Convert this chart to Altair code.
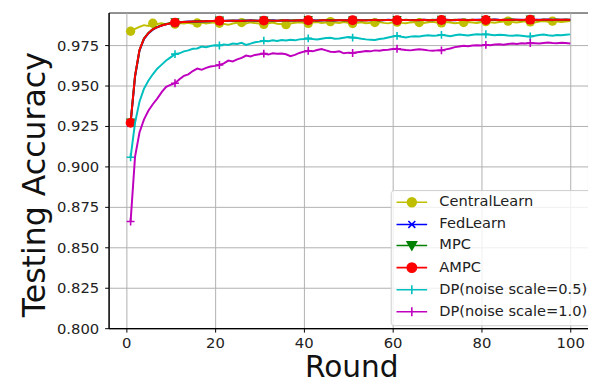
import altair as alt
import pandas as pd

rounds = list(range(1, 101))

names = ["CentralLearn", "FedLearn", "MPC", "AMPC",
         "DP(noise scale=0.5)", "DP(noise scale=1.0)"]
colors = ["#bfbf00", "#0000ff", "#008000", "#ff0000", "#00bfbf", "#bf00bf"]

central = [
    0.9836, 0.9851, 0.9863, 0.9874, 0.9869, 0.9886, 0.9881, 0.9885, 0.9879, 0.9886,
    0.9880, 0.9887, 0.9884, 0.9889, 0.9883, 0.9887, 0.9890, 0.9884, 0.9888, 0.9891,
    0.9886, 0.9882, 0.9876, 0.9884, 0.9889, 0.9890, 0.9885, 0.9891, 0.9887, 0.9884,
    0.9879, 0.9886, 0.9890, 0.9883, 0.9881, 0.9877, 0.9884, 0.9889, 0.9892, 0.9888,
    0.9885, 0.9890, 0.9893, 0.9888, 0.9891, 0.9896, 0.9890, 0.9887, 0.9893, 0.9889,
    0.9884, 0.9888, 0.9892, 0.9886, 0.9889, 0.9890, 0.9894, 0.9888, 0.9885, 0.9891,
    0.9893, 0.9888, 0.9886, 0.9891, 0.9894, 0.9890, 0.9887, 0.9892, 0.9895, 0.9891,
    0.9888, 0.9893, 0.9890, 0.9886, 0.9889, 0.9890, 0.9894, 0.9891, 0.9888, 0.9893,
    0.9896, 0.9892, 0.9889, 0.9894, 0.9897, 0.9899, 0.9893, 0.9890, 0.9895, 0.9898,
    0.9894, 0.9891, 0.9896, 0.9899, 0.9895, 0.9899, 0.9896, 0.9893, 0.9897, 0.9899,
]

fedlearn = [
    0.9268, 0.9555, 0.9716, 0.9788, 0.9823, 0.9846, 0.9861, 0.9871, 0.9879, 0.9885,
    0.9889, 0.9893, 0.9893, 0.9896, 0.9895, 0.9898, 0.9897, 0.9899, 0.9898, 0.9901,
    0.9900, 0.9901, 0.9902, 0.9901, 0.9903, 0.9901, 0.9901, 0.9904, 0.9901, 0.9902,
    0.9903, 0.9902, 0.9904, 0.9902, 0.9902, 0.9905, 0.9903, 0.9902, 0.9905, 0.9904,
    0.9903, 0.9905, 0.9903, 0.9903, 0.9906, 0.9904, 0.9903, 0.9906, 0.9905, 0.9904,
    0.9905, 0.9904, 0.9905, 0.9905, 0.9904, 0.9907, 0.9905, 0.9904, 0.9907, 0.9906,
    0.9905, 0.9906, 0.9905, 0.9906, 0.9906, 0.9905, 0.9908, 0.9906, 0.9905, 0.9907,
    0.9905, 0.9908, 0.9906, 0.9905, 0.9908, 0.9907, 0.9906, 0.9906, 0.9907, 0.9908,
    0.9907, 0.9906, 0.9909, 0.9907, 0.9906, 0.9908, 0.9907, 0.9908, 0.9907, 0.9906,
    0.9907, 0.9908, 0.9907, 0.9907, 0.9909, 0.9907, 0.9907, 0.9908, 0.9907, 0.9908,
]

mpc = [
    0.9272, 0.9558, 0.9719, 0.9791, 0.9826, 0.9849, 0.9863, 0.9873, 0.9881, 0.9887,
    0.9891, 0.9891, 0.9895, 0.9894, 0.9897, 0.9896, 0.9899, 0.9897, 0.9900, 0.9899,
    0.9902, 0.9899, 0.9902, 0.9903, 0.9900, 0.9901, 0.9903, 0.9902, 0.9903, 0.9900,
    0.9903, 0.9904, 0.9901, 0.9902, 0.9904, 0.9903, 0.9903, 0.9904, 0.9903, 0.9902,
    0.9905, 0.9902, 0.9903, 0.9905, 0.9904, 0.9904, 0.9905, 0.9904, 0.9903, 0.9904,
    0.9903, 0.9906, 0.9903, 0.9904, 0.9906, 0.9905, 0.9903, 0.9906, 0.9905, 0.9904,
    0.9905, 0.9904, 0.9907, 0.9904, 0.9905, 0.9907, 0.9906, 0.9904, 0.9907, 0.9906,
    0.9907, 0.9906, 0.9904, 0.9907, 0.9906, 0.9905, 0.9906, 0.9908, 0.9905, 0.9906,
    0.9905, 0.9908, 0.9907, 0.9905, 0.9908, 0.9907, 0.9909, 0.9906, 0.9905, 0.9908,
    0.9909, 0.9906, 0.9905, 0.9909, 0.9906, 0.9905, 0.9909, 0.9906, 0.9909, 0.9906,
]

ampc = [
    0.9270, 0.9560, 0.9720, 0.9790, 0.9825, 0.9848, 0.9862, 0.9872, 0.9880, 0.9886,
    0.9890, 0.9892, 0.9894, 0.9895, 0.9896, 0.9897, 0.9898, 0.9898, 0.9899, 0.9900,
    0.9901, 0.9900, 0.9901, 0.9902, 0.9901, 0.9900, 0.9902, 0.9903, 0.9902, 0.9901,
    0.9902, 0.9903, 0.9902, 0.9901, 0.9903, 0.9904, 0.9902, 0.9903, 0.9904, 0.9903,
    0.9904, 0.9903, 0.9902, 0.9904, 0.9905, 0.9903, 0.9904, 0.9905, 0.9904, 0.9903,
    0.9904, 0.9905, 0.9904, 0.9903, 0.9905, 0.9906, 0.9904, 0.9905, 0.9906, 0.9905,
    0.9904, 0.9905, 0.9906, 0.9905, 0.9904, 0.9906, 0.9907, 0.9905, 0.9906, 0.9905,
    0.9906, 0.9907, 0.9905, 0.9906, 0.9907, 0.9906, 0.9905, 0.9907, 0.9906, 0.9907,
    0.9906, 0.9907, 0.9908, 0.9906, 0.9907, 0.9906, 0.9908, 0.9907, 0.9906, 0.9907,
    0.9908, 0.9907, 0.9906, 0.9908, 0.9907, 0.9906, 0.9908, 0.9907, 0.9908, 0.9907,
]

dp05 = [
    0.9057, 0.9270, 0.9400, 0.9480, 0.9530, 0.9570, 0.9605, 0.9630, 0.9655, 0.9675,
    0.9695, 0.9700, 0.9712, 0.9718, 0.9728, 0.9730, 0.9742, 0.9738, 0.9745, 0.9750,
    0.9748, 0.9755, 0.9752, 0.9760, 0.9758, 0.9765, 0.9752, 0.9760, 0.9768, 0.9772,
    0.9778, 0.9775, 0.9780, 0.9776, 0.9782, 0.9779, 0.9784, 0.9780, 0.9786, 0.9788,
    0.9792, 0.9788, 0.9785, 0.9790, 0.9794, 0.9796, 0.9790, 0.9792, 0.9796, 0.9800,
    0.9797, 0.9795, 0.9790, 0.9786, 0.9784, 0.9782, 0.9788, 0.9792, 0.9798, 0.9804,
    0.9808, 0.9802, 0.9798, 0.9803, 0.9806, 0.9804, 0.9808, 0.9812, 0.9808, 0.9810,
    0.9814, 0.9810, 0.9806, 0.9812, 0.9816, 0.9813, 0.9810, 0.9815, 0.9818, 0.9816,
    0.9818, 0.9814, 0.9812, 0.9815, 0.9813, 0.9810, 0.9808, 0.9812, 0.9809, 0.9806,
    0.9804, 0.9808, 0.9813, 0.9816, 0.9812, 0.9809, 0.9813, 0.9812, 0.9815, 0.9817,
]

dp10 = [
    0.8660, 0.9060, 0.9210, 0.9290, 0.9345, 0.9385, 0.9420, 0.9460, 0.9492, 0.9505,
    0.9515, 0.9540, 0.9560, 0.9570, 0.9590, 0.9605, 0.9598, 0.9610, 0.9618, 0.9622,
    0.9628, 0.9638, 0.9655, 0.9650, 0.9662, 0.9672, 0.9686, 0.9680, 0.9690, 0.9694,
    0.9698, 0.9692, 0.9700, 0.9697, 0.9699, 0.9694, 0.9682, 0.9690, 0.9702, 0.9710,
    0.9716, 0.9712, 0.9720, 0.9726, 0.9718, 0.9710, 0.9708, 0.9712, 0.9700, 0.9704,
    0.9702, 0.9706, 0.9710, 0.9714, 0.9712, 0.9718, 0.9716, 0.9720, 0.9722, 0.9726,
    0.9728, 0.9724, 0.9720, 0.9718, 0.9722, 0.9725, 0.9722, 0.9718, 0.9716, 0.9718,
    0.9718, 0.9724, 0.9730, 0.9738, 0.9742, 0.9746, 0.9744, 0.9748, 0.9750, 0.9748,
    0.9752, 0.9750, 0.9754, 0.9756, 0.9753, 0.9757, 0.9760, 0.9758, 0.9762, 0.9760,
    0.9764, 0.9762, 0.9760, 0.9764, 0.9766, 0.9763, 0.9762, 0.9765, 0.9763, 0.9760,
]

series = [central, fedlearn, mpc, ampc, dp05, dp10]

x_ticks = [0, 20, 40, 60, 80, 100]
y_ticks = [0.800, 0.825, 0.850, 0.875, 0.900, 0.925, 0.950, 0.975]

rows = []
for name, vals in zip(names, series):
    for r, v in zip(rounds, vals):
        rows.append({"series": name, "round": r, "acc": v})
df = pd.DataFrame(rows)

FONT = "DejaVu Sans"

X = alt.X("round:Q",
          scale=alt.Scale(domain=[-3.95, 104.0], nice=False, zero=False),
          axis=alt.Axis(values=x_ticks, title="Round", labelPadding=4,
                        titleX=246, titleY=49, titleBaseline="alphabetic",
                        titleFontSize=30))
Y = alt.Y("acc:Q",
          scale=alt.Scale(domain=[0.8, 0.9952], nice=False, zero=False),
          axis=alt.Axis(values=y_ticks, format=".3f", title="Testing Accuracy",
                        labelPadding=6, titleX=-65, titleY=174, titleAngle=270,
                        titleAlign="center", titleBaseline="alphabetic",
                        titleFontSize=32))

# plot marker styles: (shape, size, filled, every)
marker_style = [
    ("circle", 90, True, 5),
    ("M-1,-1L1,1M-1,1L1,-1", 49, False, 10),
    ("triangle-down", 90, True, 10),
    ("circle", 100, True, 10),
    ("M-1,0H1M0,-1V1", 64, False, 10),
    ("M-1,0H1M0,-1V1", 64, False, 10),
]

LINE = "M-3.45,0H3.45"
legend_paths = [
    LINE + "M1,0A1,1 0 1,1 -1,0A1,1 0 1,1 1,0Z",
    LINE + "M-0.78,-0.78L0.78,0.78M-0.78,0.78L0.78,-0.78",
    LINE + "M-1.05,-0.85L1.05,-0.85L0,1Z",
    LINE + "M1.05,0A1.05,1.05 0 1,1 -1.05,0A1.05,1.05 0 1,1 1.05,0Z",
    LINE + "M0,-1V1",
    LINE + "M0,-1V1",
]

layers = []
for name, col, (shp, sz, filled, every) in zip(names, colors, marker_style):
    base = alt.Chart(df).transform_filter(alt.datum.series == name)
    line = base.mark_line(color=col, strokeWidth=2).encode(x=X, y=Y)
    pts = base.transform_filter(f"(datum.round - 1) % {every} == 0").mark_point(
        shape=shp, size=sz, filled=filled, color=col, opacity=1, strokeWidth=1.6
    ).encode(x=X, y=Y)
    layers += [line, pts]

leg = alt.Legend(
    orient="none", legendX=286, legendY=180, title=None,
    symbolSize=81, symbolStrokeWidth=1.6, symbolOffset=9, symbolOpacity=1,
    labelOffset=20.5, labelFontSize=14.8, labelFont=FONT, labelColor="#222",
    labelLimit=300, rowPadding=5.4, padding=5,
    fillColor="rgba(255,255,255,0.8)", strokeColor="#cccccc", cornerRadius=3,
)
color_scale = alt.Scale(domain=names, range=colors)
legend_layer = alt.Chart(df).transform_filter("datum.round < 0").mark_point(
    filled=True, opacity=1
).encode(
    x=X, y=Y,
    fill=alt.Fill("series:N", scale=color_scale, legend=leg),
    stroke=alt.Stroke("series:N", scale=color_scale, legend=leg),
    shape=alt.Shape("series:N", scale=alt.Scale(domain=names, range=legend_paths), legend=leg),
)
layers.append(legend_layer)

chart = alt.layer(*layers).properties(
    width=486, height=320,
    padding={"left": 102, "top": 2, "right": 0, "bottom": 55},
    autosize=alt.AutoSizeParams(type="none"),
).configure_view(
    stroke="#222", strokeWidth=1
).configure_axis(
    grid=True, gridColor="#b0b0b0", gridWidth=1,
    domainColor="#000", domainWidth=1.2, tickColor="#000", tickSize=4, tickWidth=1,
    labelFont=FONT, labelFontSize=15, labelColor="#222",
    titleFont=FONT, titleFontWeight="normal", titleColor="#111",
)

chart.save("out.html", embed_options={"renderer": "svg", "actions": False})
